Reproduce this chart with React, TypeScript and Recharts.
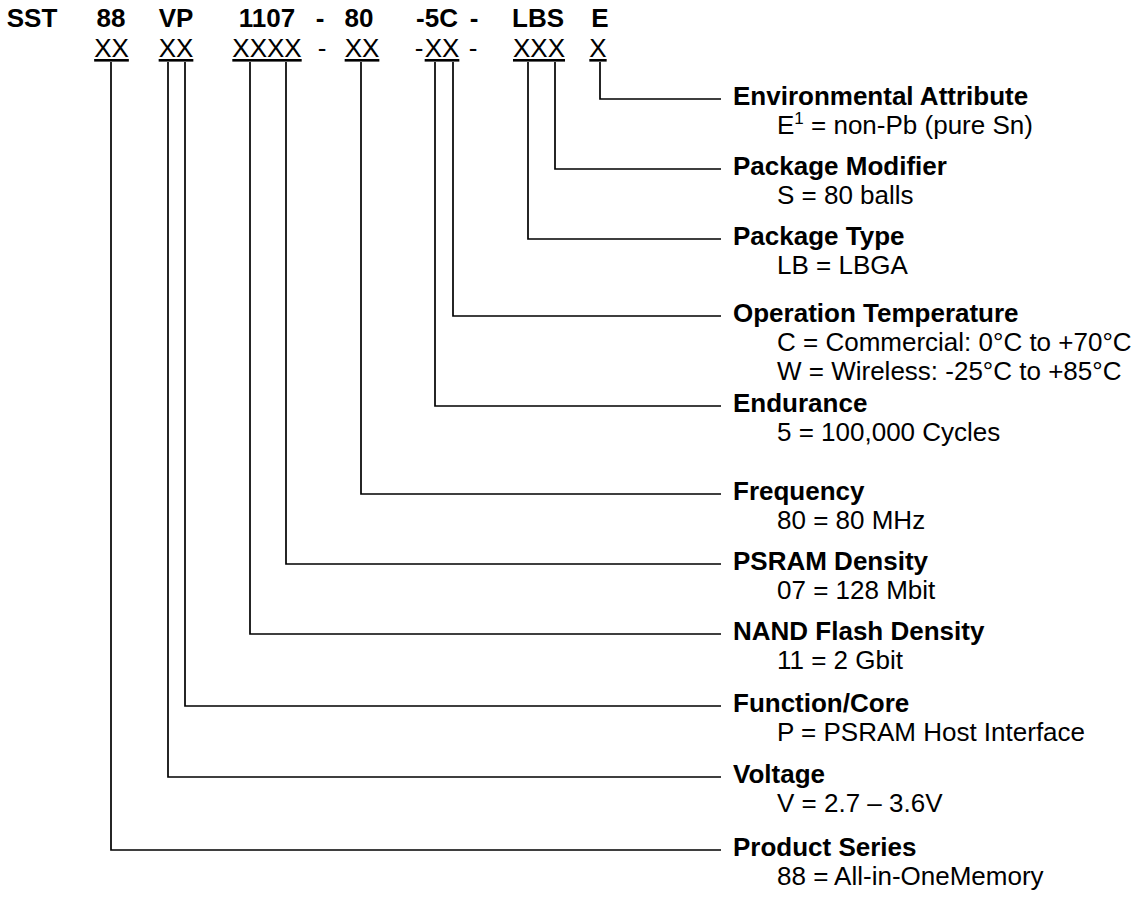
import React from "react";
import { ComposedChart, XAxis, YAxis, Scatter } from "recharts";

// ---- data ----
const codeTop = ["SST", "88", "VP", "1107", "-", "80", "-5C", "-", "LBS", "E"];
const codeTopX = [32, 111, 176, 267, 320, 359, 437, 474, 538, 600];
const codeMask = ["XX", "XX", "XXXX", "-", "XX", "-", "XX", "-", "XXX", "X"];
const codeMaskUnderline = [true, true, true, false, true, false, true, false, true, true];
const codeMaskX = [111.5, 176, 267, 322, 362, 419, 442, 473, 539, 598];

const fieldNames = [
  "Environmental Attribute",
  "Package Modifier",
  "Package Type",
  "Operation Temperature",
  "Endurance",
  "Frequency",
  "PSRAM Density",
  "NAND Flash Density",
  "Function/Core",
  "Voltage",
  "Product Series",
];
const fieldValues = [
  ["E¹ = non-Pb (pure Sn)"],
  ["S = 80 balls"],
  ["LB = LBGA"],
  ["C = Commercial: 0°C to +70°C", "W = Wireless: -25°C to +85°C"],
  ["5 = 100,000 Cycles"],
  ["80 = 80 MHz"],
  ["07 = 128 Mbit"],
  ["11 = 2 Gbit"],
  ["P = PSRAM Host Interface"],
  ["V = 2.7 – 3.6V"],
  ["88 = All-in-OneMemory"],
];
// x of the tap under the code character, y (label baseline) of each field row
const tapX = [600, 555, 528, 453, 435, 361, 286, 250, 185, 168, 111];
const rowBaseline = [105, 175, 245, 322, 412, 500, 570, 640, 712, 783, 856];

const W = 1142;
const H = 897;
const FONT = "'Liberation Sans', Arial, Helvetica, sans-serif";
const FS = 26;
const LINE_GAP = 29;
const TAP_TOP = 62;
const LINE_END = 721;
const LABEL_X = 733;
const DESC_X = 777;

const topData = codeTop.map((t, i) => ({ x: codeTopX[i], y: 27, text: t }));
const maskData = codeMask.map((t, i) => ({ x: codeMaskX[i], y: 57, text: t, u: codeMaskUnderline[i] }));
const labelData = fieldNames.map((t, i) => ({ x: LABEL_X, y: rowBaseline[i], text: t }));
const descData: { x: number; y: number; text: string }[] = [];
fieldValues.forEach((lines, i) =>
  lines.forEach((t, j) => descData.push({ x: DESC_X, y: rowBaseline[i] + LINE_GAP * (j + 1), text: t }))
);
const connectors = tapX.map((x, i) => [
  { x, y: TAP_TOP },
  { x, y: rowBaseline[i] - 6 },
  { x: LINE_END, y: rowBaseline[i] - 6 },
]);

const renderContent = (text: string) => {
  const k = text.indexOf("¹");
  if (k < 0) return text;
  return (
    <>
      <tspan>{text.slice(0, k)}</tspan>
      <tspan dy={-10} fontSize={17}>
        1
      </tspan>
      <tspan dy={10}>{text.slice(k + 1)}</tspan>
    </>
  );
};

const makeText =
  (opts: { bold?: boolean; anchor?: "start" | "middle"; under?: boolean }) =>
  (props: any) => {
    const { cx, cy, payload } = props;
    return (
      <text
        x={cx}
        y={cy}
        fontFamily={FONT}
        fontSize={FS}
        fontWeight={opts.bold ? 700 : 400}
        textAnchor={opts.anchor || "start"}
        fill="#000"
        textDecoration={opts.under && payload.u ? "underline" : undefined}
      >
        {renderContent(payload.text)}
      </text>
    );
  };

const noShape = () => <g />;

export default function App() {
  return (
    <div style={{ position: "absolute", left: 0, top: 0, background: "#fff" }}>
      <ComposedChart width={W} height={H} margin={{ top: 0, right: 0, bottom: 0, left: 0 }}>
        <XAxis type="number" dataKey="x" domain={[0, W]} hide allowDataOverflow />
        <YAxis type="number" dataKey="y" domain={[0, H]} reversed hide allowDataOverflow />
        {connectors.map((pts, i) => (
          <Scatter
            key={"c" + i}
            data={pts}
            line={{ stroke: "#000", strokeWidth: 1.7 }}
            lineType="joint"
            shape={noShape}
            isAnimationActive={false}
            legendType="none"
          />
        ))}
        <Scatter data={topData} shape={makeText({ bold: true, anchor: "middle" })} isAnimationActive={false} />
        <Scatter data={maskData} shape={makeText({ anchor: "middle", under: true })} isAnimationActive={false} />
        <Scatter data={labelData} shape={makeText({ bold: true })} isAnimationActive={false} />
        <Scatter data={descData} shape={makeText({})} isAnimationActive={false} />
      </ComposedChart>
    </div>
  );
}
